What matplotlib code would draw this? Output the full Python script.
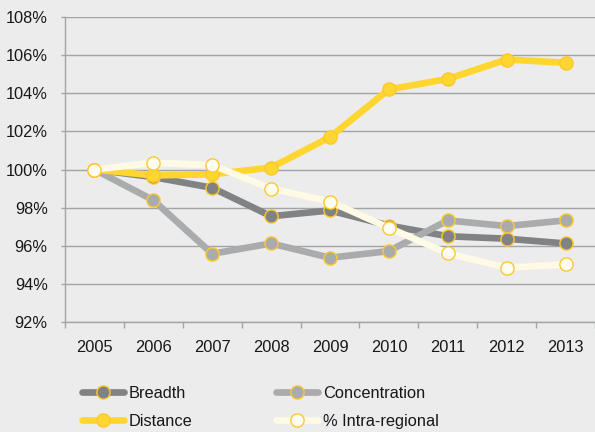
import matplotlib

matplotlib.use("Agg")

import matplotlib.pyplot as plt
import numpy as np

years = ["2005", "2006", "2007", "2008", "2009", "2010", "2011", "2012", "2013"]
breadth = [100.0, 99.6, 99.04, 97.55, 97.85, 97.06, 96.5, 96.37, 96.12]
concentration = [100.0, 98.39, 95.58, 96.12, 95.37, 95.72, 97.33, 97.03, 97.33]
distance = [100.0, 99.69, 99.75, 100.1, 101.7, 104.2, 104.75, 105.77, 105.6]
intra_regional = [100.0, 100.35, 100.23, 99.0, 98.32, 96.94, 95.6, 94.85, 95.02]
y_ticks = [92, 94, 96, 98, 100, 102, 104, 106, 108]

BG = "#ebeceb"
GRID = "#a3a4a5"
EDGE = "#fdc82f"
INK = "#1a1718"

plt.rcParams.update(
    {
        "font.family": ["Liberation Sans", "DejaVu Sans"],
        "font.size": 11.8,
        "text.color": INK,
        "xtick.color": GRID,
        "ytick.color": GRID,
        "xtick.labelcolor": INK,
        "ytick.labelcolor": INK,
    }
)

fig = plt.figure(figsize=(5.95, 4.32), dpi=100, facecolor=BG)
ax = fig.add_axes([65 / 595, 1 - 322 / 432, 530 / 595, 305 / 432], facecolor=BG)

x = np.arange(len(years))
series = [
    ("Breadth", breadth, "#808284", "#808284"),
    ("Concentration", concentration, "#a9abad", "#a9abad"),
    ("Distance", distance, "#ffd630", "#ffd630"),
    ("% Intra-regional", intra_regional, "#fffae6", "#fffdf2"),
]
handles = {}
for z, (name, vals, line_c, face_c) in enumerate(series):
    (h,) = ax.plot(
        x,
        vals,
        "-o",
        color=line_c,
        lw=4.8,
        markersize=9.5,
        markerfacecolor=face_c,
        markeredgecolor=EDGE,
        markeredgewidth=1.0,
        label=name,
        zorder=3 + z,
        solid_capstyle="round",
    )
    handles[name] = h

ax.set_xlim(-0.5, len(years) - 0.5)
ax.set_ylim(92, 108)
ax.set_yticks(y_ticks)
ax.set_yticklabels([f"{v}%" for v in y_ticks])
ax.set_xticks(x)
ax.set_xticklabels(years)
ax.set_xticks(np.arange(len(years) + 1) - 0.5, minor=True)
ax.tick_params(axis="x", which="major", length=0, pad=13)
ax.tick_params(axis="x", which="minor", length=4, width=1.0, direction="out")
ax.tick_params(axis="y", length=3, width=1.0, pad=9.5)

ax.grid(True, axis="y", color=GRID, lw=1.0, zorder=1)
for side in ["top", "right"]:
    ax.spines[side].set_visible(False)
for side in ["left", "bottom"]:
    ax.spines[side].set_color(GRID)
    ax.spines[side].set_linewidth(1.0)

order = ["Breadth", "Distance", "Concentration", "% Intra-regional"]
fig.legend(
    [handles[n] for n in order],
    order,
    ncol=2,
    loc="upper left",
    bbox_to_anchor=(82 / 595, 1 - 386 / 432),
    frameon=False,
    handlelength=2.55,
    handletextpad=0.3,
    columnspacing=5.1,
    labelspacing=0.78,
    borderpad=0,
    borderaxespad=0,
    fontsize=11.8,
)

fig.savefig("out.png", dpi=100, facecolor=BG)
